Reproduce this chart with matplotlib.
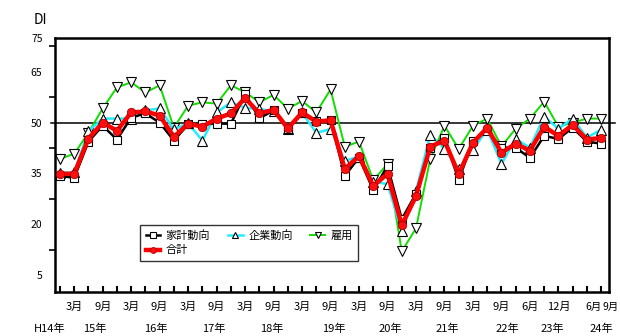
import matplotlib
matplotlib.use("Agg")
import matplotlib.pyplot as plt
from matplotlib.ticker import FixedLocator, NullFormatter

plt.rcParams["font.family"] = ["Noto Sans CJK JP", "DejaVu Sans"]

# quarterly DI, H14.12 - H24.9 (no survey in H23.3)
kakei = [34.3, 33.7, 44.4, 49.1, 45.0, 51.5, 52.7, 50.0, 44.7, 49.5,
         49.7, 49.7, 49.7, 58.4, 51.3, 53.6, 48.0, 52.7, 50.6, 50.8,
         34.3, 39.7, 30.1, 37.2, 21.5, 29.0, 42.6, 45.6, 33.0, 44.7,
         47.6, 42.6, 42.6, 39.6, 46.1, 45.2, 48.5, 44.4, 43.8]
kigyo = [35.2, 35.3, 47.5, 51.2, 51.2, 51.2, 53.6, 54.2, 48.0, 49.8,
         44.7, 53.0, 56.0, 54.4, 54.0, 53.4, 48.2, 53.0, 47.0, 48.1,
         38.7, 40.0, 32.5, 31.9, 18.0, 29.8, 46.4, 42.3, 36.3, 42.0,
         48.0, 37.8, 45.2, 42.6, 51.8, 48.2, 51.2, 45.6, 47.9]
koyo = [39.3, 40.8, 47.0, 54.2, 60.4, 61.9, 58.9, 61.0, 48.5, 55.0,
        56.0, 55.6, 61.0, 59.0, 56.0, 58.2, 54.1, 56.4, 53.0, 59.8,
        42.9, 44.4, 33.0, 37.8, 12.0, 18.8, 39.3, 49.1, 42.2, 49.1,
        51.2, 43.0, 48.2, 51.2, 56.2, 48.8, 50.0, 51.2, 51.2]
gokei = [34.9, 34.9, 45.3, 50.0, 47.6, 53.0, 53.3, 52.1, 45.8, 49.7,
         48.8, 51.2, 52.7, 57.3, 52.7, 53.8, 48.3, 53.0, 50.3, 50.7,
         36.3, 40.2, 31.3, 34.9, 19.7, 28.3, 42.9, 44.7, 34.8, 44.1,
         48.5, 41.1, 43.8, 41.7, 48.8, 46.1, 49.4, 45.0, 45.5]

month_labels = ["3月", "9月"] * 8 + ["6月", "12月", "6月", "9月"]
month_pos = list(range(1, 32, 2)) + [33, 35, 37, 38]
year_labels = ["H14年", "15年", "16年", "17年", "18年", "19年",
               "20年", "21年", "22年", "23年", "24年"]
year_pos = [-0.75, 2.45, 6.7, 10.8, 14.9, 19.2, 23.2, 27.2, 31.4, 34.6, 38.0]

x = list(range(len(gokei)))

fig = plt.figure(figsize=(6.2, 3.36), dpi=100)
ax = fig.add_axes([0.0887, 0.131, 0.8935, 0.756])

ax.plot(x, koyo, color="#11dd00", lw=1.4, marker="v", ms=6.5,
        mfc="white", mec="black", mew=0.8, label="雇用", zorder=2)
ax.plot(x, kigyo, color="#22eeff", lw=1.8, marker="^", ms=6.5,
        mfc="white", mec="black", mew=0.8, label="企業動向", zorder=3)
ax.plot(x, kakei, color="black", lw=1.8, marker="s", ms=6,
        mfc="white", mec="black", mew=0.8, label="家計動向", zorder=4)
ax.plot(x, gokei, color="#ff0000", lw=3.2, marker="o", ms=6,
        mfc="#ff1010", mec="#aa0000", mew=0.6, label="合計", zorder=5)

ax.axhline(50, xmin=-0.008, xmax=1.01, color="black", lw=1.1,
           clip_on=False, zorder=1)

ax.set_xlim(-0.35, 38.55)
ax.set_ylim(0, 75)

for side in ["left", "right", "top", "bottom"]:
    ax.spines[side].set_linewidth(1.8)

# x: a tick at every survey, labels drawn below as text
ax.set_xticks(x)
ax.xaxis.set_major_formatter(NullFormatter())
ax.tick_params(axis="x", direction="in", length=4, width=1.5)
last = len(month_labels) - 1
for k, (p, lab) in enumerate(zip(month_pos, month_labels)):
    if k == last - 1:
        # the last two labels sit side by side at the end of the axis
        ax.text(p + 1.05, -4.5, lab, ha="right", va="center", fontsize=7.5)
    elif k == last:
        ax.text(p + 0.12, -4.5, lab, ha="left", va="center", fontsize=7.5)
    else:
        ax.text(p, -4.5, lab, ha="center", va="center", fontsize=8)
for p, lab in zip(year_pos, year_labels):
    ax.text(p, -11.0, lab, ha="center", va="center", fontsize=8)

# y: labels without ticks, small ticks in between
ax.set_yticks([5, 20, 35, 50, 65, 75])
ax.set_yticklabels(["5", "20", "35", "50", "65", "75"], fontsize=7.5)
ax.tick_params(axis="y", length=0, pad=9)
ax.yaxis.set_minor_locator(FixedLocator([12.5, 27.5, 42.5, 57.5, 72.5]))
ax.tick_params(axis="y", which="minor", direction="out", length=4, width=1.2)

fig.text(0.055, 0.94, "DI", fontsize=10, ha="left", va="center")

# columns fill first, so this order gives 家計/企業/雇用 on top and 合計 below
h, l = ax.get_legend_handles_labels()
order = [2, 3, 1, 0]
leg = ax.legend([h[i] for i in order], [l[i] for i in order], ncol=3,
                loc="lower left", bbox_to_anchor=(0.144, 0.1),
                fontsize=8, frameon=True, fancybox=False, edgecolor="black",
                handlelength=1.3, handletextpad=0.5, columnspacing=1.6,
                borderpad=0.5, labelspacing=0.4, markerscale=0.7)
leg.get_frame().set_linewidth(1.0)

fig.savefig("out.png", dpi=100)
